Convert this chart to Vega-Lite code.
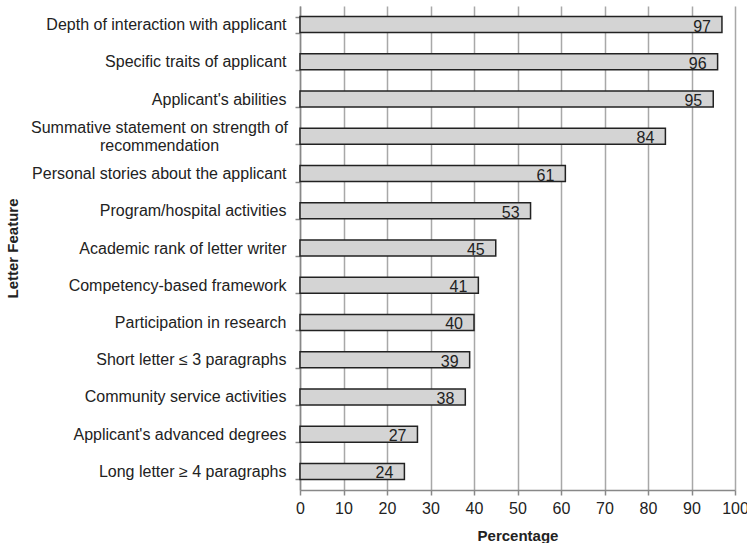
{
  "$schema": "https://vega.github.io/schema/vega-lite/v6.json",
  "autosize": {"type": "none"},
  "width": 435,
  "height": 484,
  "padding": {"left": 300, "top": 6, "right": 12, "bottom": 53},
  "background": "white",
  "config": {
    "view": {"stroke": null},
    "font": "Liberation Sans",
    "axis": {"labelFont": "Liberation Sans", "titleFont": "Liberation Sans", "labelColor": "#222", "titleColor": "#222", "labelFontSize": 16, "titleFontSize": 15, "titleFontWeight": "bold"}
  },
  "data": {
    "values": [
      {"feature": "Depth of interaction with applicant", "pct": 97},
      {"feature": "Specific traits of applicant", "pct": 96},
      {"feature": "Applicant's abilities", "pct": 95},
      {"feature": "Summative statement on strength of recommendation", "pct": 84},
      {"feature": "Personal stories about the applicant", "pct": 61},
      {"feature": "Program/hospital activities", "pct": 53},
      {"feature": "Academic rank of letter writer", "pct": 45},
      {"feature": "Competency-based framework", "pct": 41},
      {"feature": "Participation in research", "pct": 40},
      {"feature": "Short letter ≤ 3 paragraphs", "pct": 39},
      {"feature": "Community service activities", "pct": 38},
      {"feature": "Applicant's advanced degrees", "pct": 27},
      {"feature": "Long letter ≥ 4 paragraphs", "pct": 24}
    ]
  },
  "encoding": {
    "y": {
      "field": "feature", "type": "nominal", "sort": null,
      "scale": {"paddingInner": 0.57, "paddingOuter": 0.285},
      "axis": {
        "title": "Letter Feature", "titleX": -288, "titleBaseline": "middle",
        "domainColor": "#888", "domainWidth": 1.5, "tickColor": "#888", "tickWidth": 1.5, "tickSize": 5, "tickBand": "extent",
        "labelPadding": {"condition": {"test": "datum.value == 'Summative statement on strength of recommendation'", "value": 136}, "value": 9},
        "labelAlign": {"condition": {"test": "datum.value == 'Summative statement on strength of recommendation'", "value": "center"}, "value": "right"},
        "labelOffset": {"condition": {"test": "datum.value == 'Summative statement on strength of recommendation'", "value": -9}, "value": 0},
        "labelLimit": 300, "labelLineHeight": 18,
        "labelExpr": "datum.value == 'Summative statement on strength of recommendation' ? ['Summative statement on strength of', 'recommendation'] : datum.value"
      }
    }
  },
  "layer": [
    {
      "mark": {"type": "bar", "fill": "#d4d4d4", "stroke": "#222", "strokeWidth": 1.5},
      "encoding": {
        "x": {
          "field": "pct", "type": "quantitative",
          "scale": {"domain": [0, 100], "nice": false},
          "axis": {
            "title": "Percentage", "titlePadding": 12, "values": [0,10,20,30,40,50,60,70,80,90,100],
            "grid": true, "gridColor": "#a8a8a8", "gridWidth": 1.5,
            "domainColor": "#888", "domainWidth": 1.5, "tickColor": "#888", "tickWidth": 1.5, "tickSize": 5, "labelPadding": 5, "labelFlush": false
          }
        }
      }
    },
    {
      "mark": {"type": "text", "align": "right", "baseline": "alphabetic", "dx": -11, "dy": 7, "fontSize": 16, "color": "#222"},
      "encoding": {
        "x": {"field": "pct", "type": "quantitative"},
        "text": {"field": "pct", "type": "quantitative"}
      }
    }
  ]
}
